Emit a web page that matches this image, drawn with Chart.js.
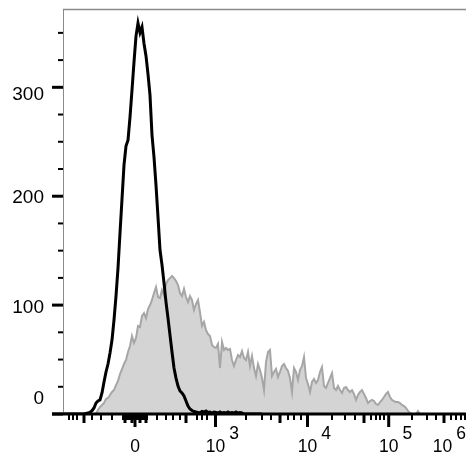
<!DOCTYPE html>
<html><head><meta charset="utf-8">
<script src="https://cdn.jsdelivr.net/npm/chart.js@4/dist/chart.umd.min.js"></script>
<style>html,body{margin:0;padding:0;background:#fff;}#wrap{width:466px;height:472px;}</style>
</head><body><div id="wrap"><canvas id="c" width="466" height="472"></canvas></div>
<script>
// Histogram counts per display channel
const grayStart = 16;
const grayCounts = [0.5,3.7,6.4,8.3,10.1,13.8,14.7,17.4,20.2,22.0,26.6,30.3,36.7,41.3,45.9,49.6,56.9,62.4,71.6,65.2,
69.8,80.8,79.9,90.0,92.7,88.1,96.4,100.1,104.7,111.1,116.6,107.4,106.5,113.8,109.2,119.3,123.0,124.8,126.7,124.8,
122.1,118.4,111.1,108.3,114.8,107.4,102.8,108.3,104.7,95.5,101.0,104.7,93.6,80.8,84.5,77.1,73.4,71.6,63.3,61.5,
60.6,64.3,42.2,66.1,58.8,60.6,58.8,59.7,49.6,44.1,49.6,54.2,52.3,57.8,51.4,49.6,56.9,44.1,53.2,42.2,
34.9,45.9,40.4,33.0,22.0,47.7,56.9,58.8,34.9,38.6,41.3,34.0,38.6,44.1,45.9,42.2,39.5,33.0,20.2,42.2,
38.6,31.2,40.4,44.1,52.3,33.0,27.5,20.2,29.4,32.1,28.5,31.2,38.6,43.1,25.7,23.9,28.5,33.0,37.6,23.9,
22.0,25.7,22.0,19.3,23.9,24.8,22.0,20.2,22.0,18.4,12.9,17.4,20.2,22.0,18.4,14.7,10.1,11.9,12.9,11.9,
9.2,8.3,11.0,12.9,15.6,18.4,20.2,15.6,12.9,11.9,11.0,11.0,10.1,8.3,7.3,5.5,2.8,0.9,0,0,
0,2.8,0,0,0];
const blackStart = 0;
const blackCounts = [0,0,0,0,0,0,0,0,0,0,0,0.5,1,1.4,3,5.5,10.1,12,12.9,19.3,
29.4,38.6,45.9,56.0,67.9,86.3,108.3,134.0,166.2,197.4,228.6,246.0,251.5,272.6,297.4,323.1,347.0,359.0,350.2,355.4,
340.3,328.8,312.1,292.8,256.1,235.9,210.2,180.8,150.6,137.0,120.4,102.8,88.1,72.5,56.9,42.2,33.0,25.7,21.1,19.3,
16.5,11.9,7.3,4.6,3.2,2.3,1.8,1.4,0.9,2.3,1.8,2.8,1.4,1.8,0.9,1.8,1.4,0.9,1.8,0.9,
1.4,0.9,1.8,0.9,1.4,0.9,1.8,0.9,1.4,0.9,0,0,0,0,0,0,0,0,0,0];

// Axis ticks (display channel positions) and labels
const yMajorTicks = [0,100,200,300];
const yTickLabels = ['0','100','200','300'];
const yMinorTicks = [25,50,75,125,150,175,225,250,275,325,350];
const xLabelPos = [35.5,75.75,121.75,162.35,203];
const xLabelBase = ['0','10','10','10','10'];
const xLabelExp = ['','3','4','5','6'];
const xMajorTicks = [35.5,75.75,121.75,162.35];
const xMediumTicks = [10,30.5,34,38,41,61,108,150,190];
const xMinorTicks = [2.5,4.5,6.5,14,18.5,24,29.5,30,31,31.5,32,32.5,33,33.5,34.5,35,36,36.5,37,37.5,38.5,39,39.5,40,40.5,41.5,
46.5,51,54.5,58,66.5,69,71.5,91,99,103.5,112,115,118.5,134,140.5,145.5,153.5,156,158,160,174,181.5,186,193.5,196,198.5,200.5];

const toPts = (start, arr) => arr.map((v,i)=>({x:start+i, y:v}));

const axesPlugin = {
  id:'flowAxes',
  afterDatasetsDraw(chart){
    const ctx = chart.ctx, a = chart.chartArea, xs = chart.scales.x, ys = chart.scales.y;
    ctx.save();
    // frame
    ctx.strokeStyle = '#8a8a8a'; ctx.lineWidth = 1.5;
    ctx.beginPath(); ctx.moveTo(a.left, a.top-0.5); ctx.lineTo(a.right, a.top-0.5); ctx.stroke();
    ctx.lineWidth = 1;
    ctx.beginPath(); ctx.moveTo(a.left+0.5, a.top); ctx.lineTo(a.left+0.5, a.bottom); ctx.stroke();
    // baseline
    ctx.strokeStyle = '#000'; ctx.lineWidth = 3;
    ctx.beginPath(); ctx.moveTo(a.left-11, a.bottom); ctx.lineTo(a.right, a.bottom); ctx.stroke();
    // y ticks
    ctx.lineWidth = 3;
    yMajorTicks.forEach(v=>{const p=ys.getPixelForValue(v); ctx.beginPath(); ctx.moveTo(a.left-11,p); ctx.lineTo(a.left,p); ctx.stroke();});
    ctx.lineWidth = 2;
    yMinorTicks.forEach(v=>{const p=ys.getPixelForValue(v); ctx.beginPath(); ctx.moveTo(a.left-5,p); ctx.lineTo(a.left,p); ctx.stroke();});
    // x ticks
    const xt = (list, len, w) => { ctx.lineWidth = w; list.forEach(v=>{const p=xs.getPixelForValue(v); ctx.beginPath(); ctx.moveTo(p,a.bottom); ctx.lineTo(p,a.bottom+len); ctx.stroke();}); };
    xt(xMinorTicks, 6, 2);
    xt(xMediumTicks, 9, 3);
    xt(xMajorTicks, 13, 3);
    // y labels
    ctx.fillStyle = '#000';
    ctx.font = '19px "Liberation Sans", Arial, sans-serif';
    ctx.textAlign = 'right'; ctx.textBaseline = 'middle';
    const yLabelDy = [-15, 3, 2, 7];
    yMajorTicks.forEach((v,i)=>{ ctx.fillText(yTickLabels[i], a.left-19, ys.getPixelForValue(v)+yLabelDy[i]); });
    // x labels with superscripts
    ctx.font = '17.5px "Liberation Sans", Arial, sans-serif';
    ctx.textAlign = 'left'; ctx.textBaseline = 'alphabetic';
    const W = chart.width;
    xLabelPos.forEach((v,i)=>{
      const p = xs.getPixelForValue(v);
      const bw = ctx.measureText(xLabelBase[i]).width;
      const ew = xLabelExp[i] ? ctx.measureText(xLabelExp[i]).width + 4 : 0;
      let left = p - bw/2;
      if (left + bw + ew > W) left = W - bw - ew;
      ctx.fillText(xLabelBase[i], left, 451.5);
      if (xLabelExp[i]) ctx.fillText(xLabelExp[i], left + bw + 4, 438.5);
    });
    ctx.restore();
  }
};

new Chart(document.getElementById('c'), {
  type:'line',
  data:{ datasets:[
    { label:'Control', data: toPts(blackStart, blackCounts), borderColor:'#000', borderWidth:3, pointRadius:0, fill:false, tension:0 },
    { label:'Stained', data: toPts(grayStart, grayCounts), borderColor:'#a6a6a6', backgroundColor:'#d4d4d4', borderWidth:2, pointRadius:0, fill:'origin', tension:0 }
  ]},
  options:{
    responsive:false, animation:false, devicePixelRatio:1,
    layout:{ padding:{ left:63, right:0, top:10, bottom:58 } },
    scales:{
      x:{ type:'linear', min:-0.5, max:201, display:false },
      y:{ min:0, max:371, display:false }
    },
    plugins:{ legend:{display:false}, tooltip:{enabled:false} }
  },
  plugins:[axesPlugin]
});
</script></body></html>
